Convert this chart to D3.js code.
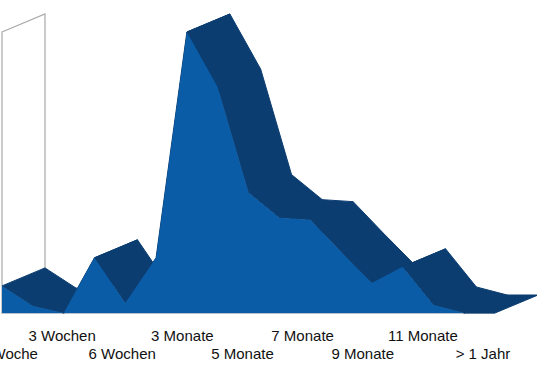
<!DOCTYPE html>
<html>
<head>
<meta charset="utf-8">
<script src="https://cdn.jsdelivr.net/npm/d3@7"></script>
<style>
  body { margin: 0; background: #fff; }
  svg { display: block; }
</style>
</head>
<body>
<div id="chart"></div>
<script>
(function() {

    let width = 537,
        height = 375;

    // data (share, no y axis shown)
    const categories = ["1 Woche", "2 Wochen", "3 Wochen", "4 Wochen", "6 Wochen", "2 Monate",
        "3 Monate", "4 Monate", "5 Monate", "6 Monate", "7 Monate", "8 Monate",
        "9 Monate", "10 Monate", "11 Monate", "12 Monate", "> 1 Jahr"];
    const values = [2.7, 0.7, 0, 5.5, 1.0, 5.5, 28, 22.5, 12.0, 9.5, 9.3, 6.1, 3.0, 4.6, 0.8, 0, 0];
    const yMax = 28;

    // 3d depth offset of the back edge
    const depth = { dx: 43, dy: -18 };
    const labelLeft = -21;   // left edge of the (cropped) chart area

    let svg = d3.select("#chart")
        .append("svg")
        .attr("width", width)
        .attr("height", height);

    let x = d3.scalePoint()
        .domain(categories)
        .range([2, 495]);

    let y = d3.scaleLinear()
        .domain([0, yMax])
        .range([313, 32]);

    // labels sit on a slightly narrower scale than the front face
    let xLabel = d3.scalePoint()
        .domain(categories)
        .range([2, 483]);

    let data = categories.map((c, i) => ({ name: c, value: values[i] }));

    // left wall
    let wall = [
        [x.range()[0], y(yMax)],
        [x.range()[0] + depth.dx, y(yMax) + depth.dy],
        [x.range()[0] + depth.dx, y(0) + depth.dy],
        [x.range()[0], y(0)]
    ];
    svg.append("polygon")
        .attr("points", wall.join(" "))
        .attr("fill", "#fff")
        .attr("stroke", "#a9a9a9")
        .attr("stroke-width", 1.2);

    // floor front edge
    svg.append("line")
        .attr("x1", x.range()[0]).attr("x2", x.range()[1])
        .attr("y1", y(0) + 0.5).attr("y2", y(0) + 0.5)
        .attr("stroke", "#b9c2cc")
        .attr("stroke-width", 1);

    // top surfaces, drawn left to right
    let tops = d3.pairs(data).map(([a, b]) => [
        [x(a.name), y(a.value)],
        [x(b.name), y(b.value)],
        [x(b.name) + depth.dx, y(b.value) + depth.dy],
        [x(a.name) + depth.dx, y(a.value) + depth.dy]
    ]);
    svg.append("g")
        .selectAll("polygon")
        .data(tops)
        .enter()
        .append("polygon")
        .attr("points", d => d.join(" "))
        .attr("fill", "#0b3d71")
        .attr("stroke", "#0b3d71")
        .attr("stroke-width", 1)
        .attr("stroke-linejoin", "round");

    // front face
    let area = d3.area()
        .x(d => x(d.name))
        .y0(y(0))
        .y1(d => y(d.value));
    svg.append("path")
        .datum(data)
        .attr("d", area)
        .attr("fill", "#0b5ca6");

    // category labels, every other one, in two rows
    let labels = data.filter((d, i) => i % 2 === 0);
    svg.append("g")
        .selectAll("text")
        .data(labels)
        .enter()
        .append("text")
        .attr("x", d => xLabel(d.name))
        .attr("y", (d, i) => i % 2 === 0 ? 359 : 341)
        .attr("text-anchor", "middle")
        .style("font-family", "'Liberation Sans', Arial, sans-serif")
        .style("font-size", "15px")
        .style("fill", "#111")
        .text(d => d.name)
        .each(function() {
            // keep labels inside the chart area like the original does
            let w = this.getComputedTextLength();
            let cx = +this.getAttribute("x");
            if (cx - w / 2 < labelLeft) this.setAttribute("x", labelLeft + w / 2);
        });

})();
</script>
</body>
</html>
